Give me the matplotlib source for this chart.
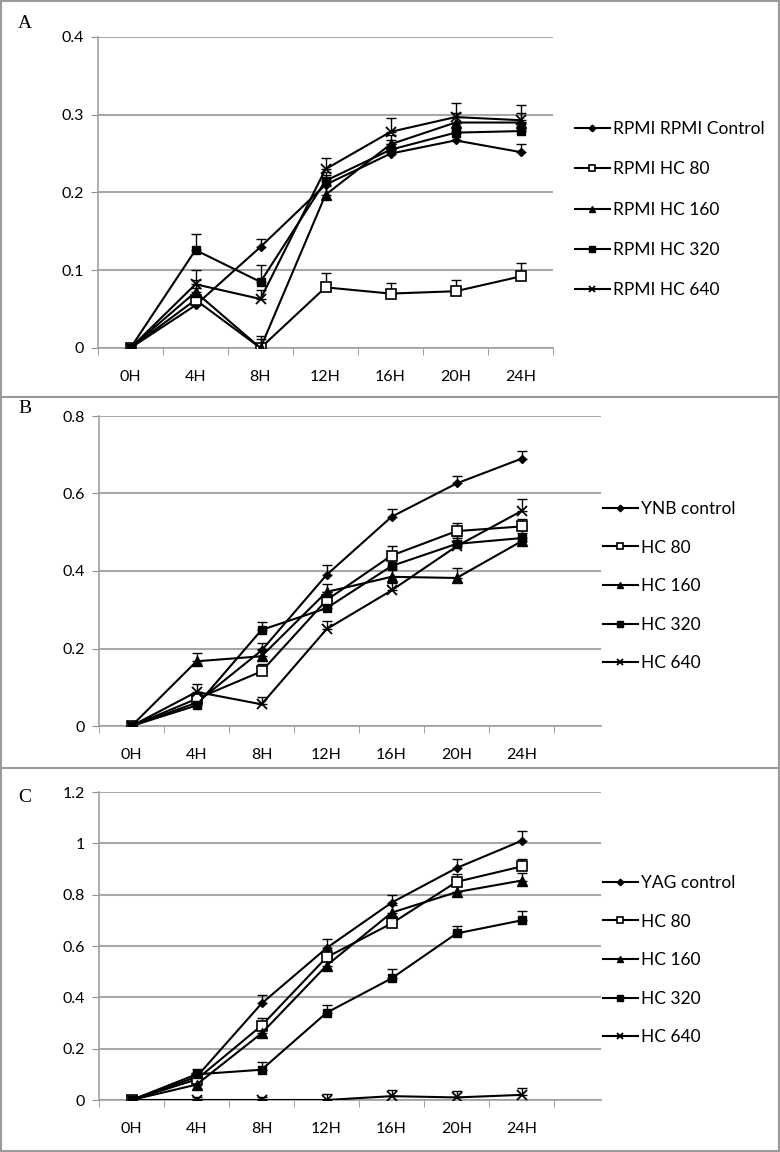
import matplotlib
matplotlib.use("Agg")
import matplotlib.pyplot as plt
from matplotlib.lines import Line2D
import numpy as np

hours = ["0H", "4H", "8H", "12H", "16H", "20H", "24H"]

# panel A - RPMI
a_labels = ["RPMI RPMI Control", "RPMI HC 80", "RPMI HC 160", "RPMI HC 320", "RPMI HC 640"]
a_ctrl = [0, 0.055, 0.13, 0.21, 0.25, 0.267, 0.252]
a_hc80 = [0, 0.062, 0, 0.078, 0.070, 0.073, 0.092]
a_hc160 = [0, 0.072, 0, 0.197, 0.262, 0.29, 0.29]
a_hc320 = [0, 0.126, 0.085, 0.215, 0.255, 0.277, 0.279]
a_hc640 = [0, 0.082, 0.063, 0.23, 0.278, 0.297, 0.293]
a_err_ctrl = [0, 0.01, 0.01, 0.012, 0.012, 0.012, 0.01]
a_err_hc80 = [0, 0.015, 0.012, 0.019, 0.013, 0.015, 0.017]
a_err_hc160 = [0, 0.015, 0.015, 0.012, 0.012, 0.012, 0.012]
a_err_hc320 = [0, 0.02, 0.022, 0.012, 0.012, 0.012, 0.012]
a_err_hc640 = [0, 0.018, 0.012, 0.015, 0.018, 0.018, 0.02]

# panel B - YNB
b_labels = ["YNB control", "HC 80", "HC 160", "HC 320", "HC 640"]
b_ctrl = [0, 0.06, 0.195, 0.39, 0.54, 0.626, 0.69]
b_hc80 = [0, 0.07, 0.141, 0.325, 0.44, 0.503, 0.515]
b_hc160 = [0, 0.167, 0.18, 0.346, 0.385, 0.382, 0.477]
b_hc320 = [0, 0.053, 0.248, 0.304, 0.413, 0.47, 0.485]
b_hc640 = [0, 0.088, 0.056, 0.25, 0.35, 0.464, 0.555]
b_err_ctrl = [0, 0.015, 0.02, 0.025, 0.02, 0.02, 0.02]
b_err_hc80 = [0, 0.015, 0.02, 0.02, 0.025, 0.02, 0.02]
b_err_hc160 = [0, 0.022, 0.02, 0.02, 0.02, 0.025, 0.02]
b_err_hc320 = [0, 0.015, 0.02, 0.02, 0.02, 0.02, 0.02]
b_err_hc640 = [0, 0.02, 0.02, 0.02, 0.02, 0.02, 0.03]

# panel C - YAG
c_labels = ["YAG control", "HC 80", "HC 160", "HC 320", "HC 640"]
c_ctrl = [0, 0.09, 0.376, 0.592, 0.769, 0.904, 1.01]
c_hc80 = [0, 0.08, 0.29, 0.556, 0.688, 0.85, 0.91]
c_hc160 = [0, 0.06, 0.26, 0.524, 0.73, 0.81, 0.855]
c_hc320 = [0, 0.1, 0.118, 0.34, 0.474, 0.649, 0.70]
c_hc640 = [0, 0, 0, 0, 0.015, 0.01, 0.02]
c_err_ctrl = [0, 0.02, 0.035, 0.035, 0.03, 0.035, 0.04]
c_err_hc80 = [0, 0.02, 0.03, 0.03, 0.03, 0.03, 0.03]
c_err_hc160 = [0, 0.02, 0.03, 0.03, 0.03, 0.03, 0.03]
c_err_hc320 = [0, 0.02, 0.032, 0.03, 0.035, 0.03, 0.035]
c_err_hc640 = [0, 0.01, 0.01, 0.025, 0.025, 0.025, 0.025]

plt.rcParams['font.family'] = ['Lato', 'DejaVu Sans']

W, H = 780, 1152
fig = plt.figure(figsize=(W / 100, H / 100), dpi=100)

styles = [
    dict(marker='D', ms=4.5, mfc='black', mec='black'),
    dict(marker='s', ms=6.5, mfc='white', mec='black', mew=1.2),
    dict(marker='^', ms=6.5, mfc='black', mec='black'),
    dict(marker='s', ms=6, mfc='black', mec='black'),
    dict(marker='x', ms=6.5, mfc='black', mec='black', mew=1.3),
]


def px_axes(left, right, top, bottom):
    return fig.add_axes([left / W, 1 - bottom / H, (right - left) / W, (bottom - top) / H])


def draw_panel(box, letter, letter_y, series, errs, labels, ymax, ystep, xmax, leg_x, leg_y, spacing):
    ax = px_axes(*box)
    x = np.arange(len(hours))
    handles = []
    for vals, err, st in zip(series, errs, styles):
        ax.errorbar(x, vals, yerr=[np.zeros(len(err)), err], fmt='none', ecolor='black',
                    elinewidth=1.0, capsize=3.5, capthick=1.0, zorder=3)
        h, = ax.plot(x, vals, color='black', lw=1.5, zorder=4, **st)
        handles.append(h)
    ax.set_xlim(-0.5, xmax)
    ax.set_ylim(0, ymax)
    yt = np.arange(0, ymax + ystep / 2, ystep)
    ax.set_yticks(yt)
    ax.set_yticklabels(['{:g}'.format(round(v, 1)) for v in yt])
    ax.set_xticks(x)
    ax.set_xticklabels(hours)
    ax.set_xticks(np.arange(-0.5, len(hours), 1.0), minor=True)
    ax.tick_params(axis='x', which='major', length=0, pad=16, labelsize=11.5)
    ax.tick_params(axis='x', which='minor', length=5, color='#909090', direction='out')
    ax.tick_params(axis='y', length=5, color='#909090', labelsize=11.5, pad=5)
    ax.grid(axis='y', color='#a8a8a8', lw=1.5)
    ax.set_axisbelow(True)
    for s in ['top', 'right']:
        ax.spines[s].set_visible(False)
    for s in ['left', 'bottom']:
        ax.spines[s].set_color('#a0a0a0')
        ax.spines[s].set_linewidth(1.2)
    fig.text(18 / W, 1 - letter_y / H, letter, family='Liberation Serif', fontsize=14,
             ha='left', va='center')
    fig.legend(handles, labels, loc='upper left', bbox_to_anchor=(leg_x / W, 1 - leg_y / H),
               frameon=False, fontsize=12.5, handlelength=2.0, handletextpad=0.2,
               labelspacing=spacing, borderaxespad=0, borderpad=0, numpoints=1,
               markerscale=0.75)
    return ax


draw_panel((98, 553, 37, 348), 'A', 24,
           [a_ctrl, a_hc80, a_hc160, a_hc320, a_hc640],
           [a_err_ctrl, a_err_hc80, a_err_hc160, a_err_hc320, a_err_hc640],
           a_labels, 0.4, 0.1, 6.5, 575, 121, 1.4)
draw_panel((99, 601, 416, 726), 'B', 408,
           [b_ctrl, b_hc80, b_hc160, b_hc320, b_hc640],
           [b_err_ctrl, b_err_hc80, b_err_hc160, b_err_hc320, b_err_hc640],
           b_labels, 0.8, 0.2, 7.22, 603, 501, 1.3)
draw_panel((99, 601, 792, 1100), 'C', 797,
           [c_ctrl, c_hc80, c_hc160, c_hc320, c_hc640],
           [c_err_ctrl, c_err_hc80, c_err_hc160, c_err_hc320, c_err_hc640],
           c_labels, 1.2, 0.2, 7.22, 603, 875, 1.3)

# panel frames
gray = '#9a9a9a'
for y in [397, 768]:
    fig.add_artist(Line2D([0, 1], [1 - y / H, 1 - y / H], color=gray, lw=1.5))
fig.add_artist(plt.Rectangle((1 / W, 1 / H), (W - 2) / W, (H - 2) / H, fill=False,
                             edgecolor=gray, lw=1.5, transform=fig.transFigure))

fig.savefig('out.png', dpi=100)
